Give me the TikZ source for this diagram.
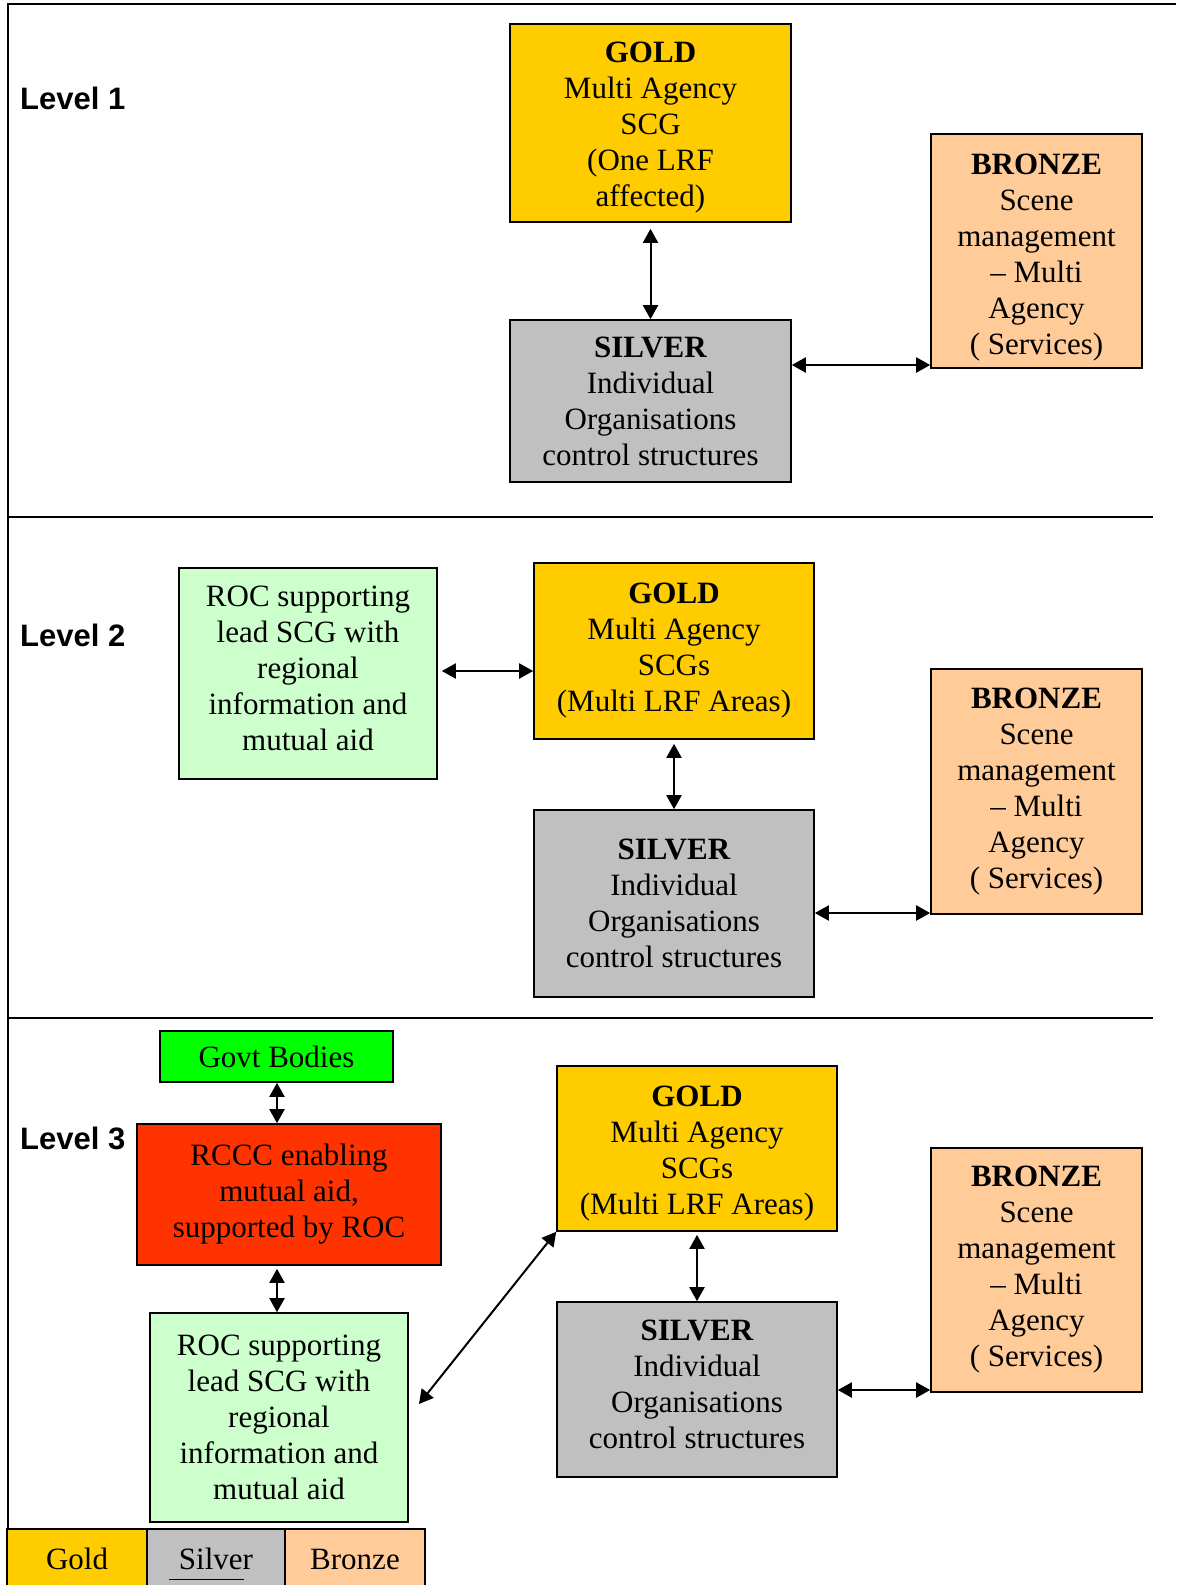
\documentclass[tikz,border=0pt]{standalone}
\usepackage{fontspec}
\setmainfont{Liberation Serif}
\newfontfamily\lvlfont{Liberation Sans}
\usetikzlibrary{arrows.meta,calc}
\definecolor{goldc}{HTML}{FFCC00}
\definecolor{silverc}{HTML}{C0C0C0}
\definecolor{bronzec}{HTML}{FFCC99}
\definecolor{rocc}{HTML}{CCFFCC}
\definecolor{govc}{HTML}{00FF00}
\definecolor{rcccc}{HTML}{FF3300}
% push text down (top) or up (bot) inside a fixed box
\newcommand{\tdn}[1]{\rule{0pt}{#1}}
\newcommand{\tup}[1]{\rule[-#1]{0pt}{#1}}
\begin{document}
\begin{tikzpicture}[x=1pt,y=-1pt,
  box/.style={draw, line width=1.6pt, inner sep=0pt, align=center, font=\fontsize{31}{36}\selectfont},
  goldbox/.style={box, fill=goldc},
  silverbox/.style={box, fill=silverc},
  bronzebox/.style={box, fill=bronzec},
  rocbox/.style={box, fill=rocc},
  govbox/.style={box, fill=govc},
  rcccbox/.style={box, fill=rcccc},
  link/.style={line width=2pt, {Triangle[length=14pt,width=15pt]}-{Triangle[length=14pt,width=15pt]}},
  lvl/.style={anchor=west, font=\lvlfont\bfseries\fontsize{31}{36}\selectfont, inner sep=0pt},
  frame/.style={line width=1.8pt}
]
\useasboundingbox (0,0) rectangle (1176,1585);

% frame and dividers
\coordinate (ftl) at (8,4);
\coordinate (ftr) at (1176,4);
\coordinate (fbl) at (8,1530);
\draw[frame] (ftr) -- (ftl) -- (fbl);
\coordinate (d1a) at (8,517);
\coordinate (d1b) at (1153,517);
\coordinate (d2a) at (8,1018);
\coordinate (d2b) at (1153,1018);
\draw[frame] (d1a) -- (d1b);
\draw[frame] (d2a) -- (d2b);

% Level 1
\node[lvl] (l1) at (20,98) {Level 1};
\node[goldbox, minimum width=281, minimum height=198] (g1) at (650.5,123)
  {\tdn{30pt}\textbf{GOLD}\\Multi Agency\\SCG\\(One LRF\\affected)};
\node[silverbox, minimum width=281, minimum height=162] (s1) at (650.5,401)
  {\textbf{SILVER}\\Individual\\Organisations\\control structures};
\node[bronzebox, minimum width=211, minimum height=234] (b1) at (1036.5,251)
  {\tdn{33pt}\textbf{BRONZE}\\Scene\\management\\– Multi\\Agency\\( Services)};
\draw[link, shorten <=6pt] (g1.south) -- (s1.north);
\coordinate (y1) at (0,365);
\draw[link] (s1.east |- y1) -- (b1.west |- y1);

% Level 2
\node[lvl] (l2) at (20,635) {Level 2};
\node[rocbox, minimum width=258, minimum height=211] (r2) at (308,673.5)
  {ROC supporting\\lead SCG with\\regional\\information and\\mutual aid\tup{11pt}};
\node[goldbox, minimum width=280, minimum height=176] (g2) at (674,651)
  {\textbf{GOLD}\\Multi Agency\\SCGs\\(Multi LRF Areas)};
\node[silverbox, minimum width=280, minimum height=187] (s2) at (674,903.5)
  {\textbf{SILVER}\\Individual\\Organisations\\control structures};
\node[bronzebox, minimum width=211, minimum height=245] (b2) at (1036.5,791.5)
  {\textbf{BRONZE}\\Scene\\management\\– Multi\\Agency\\( Services)};
\coordinate (y2a) at (0,671);
\draw[link, shorten <=4pt] (r2.east |- y2a) -- (g2.west |- y2a);
\draw[link, shorten <=4pt] (g2.south) -- (s2.north);
\coordinate (y2b) at (0,913);
\draw[link] (s2.east |- y2b) -- (b2.west |- y2b);

% Level 3
\node[lvl] (l3) at (20,1138) {Level 3};
\node[govbox, minimum width=233, minimum height=51] (gv) at (276.5,1056.5) {Govt Bodies};
\node[rcccbox, minimum width=304, minimum height=141] (rc) at (289,1194.5)
  {RCCC enabling\\mutual aid,\\supported by ROC};
\node[rocbox, minimum width=258, minimum height=209] (r3) at (279,1417.5)
  {ROC supporting\\lead SCG with\\regional\\information and\\mutual aid};
\node[goldbox, minimum width=280, minimum height=165] (g3) at (697,1148.5)
  {\tdn{30pt}\textbf{GOLD}\\Multi Agency\\SCGs\\(Multi LRF Areas)};
\node[silverbox, minimum width=280, minimum height=175] (s3) at (697,1389.5)
  {\textbf{SILVER}\\Individual\\Organisations\\control structures\tup{11pt}};
\node[bronzebox, minimum width=211, minimum height=244] (b3) at (1036.5,1270)
  {\textbf{BRONZE}\\Scene\\management\\– Multi\\Agency\\( Services)};
\coordinate (x3) at (277,0);
\draw[link] (gv.south -| x3) -- (rc.north -| x3);
\draw[link, shorten <=3pt] (rc.south -| x3) -- (r3.north -| x3);
\coordinate (dg) at (419,1404);
\draw[link] (dg) -- (g3.south west);
\draw[link, shorten <=3pt] (g3.south) -- (s3.north);
\coordinate (y3) at (0,1390);
\draw[link] (s3.east |- y3) -- (b3.west |- y3);

% Legend
\node[goldbox, minimum width=140, minimum height=60] (lg) at (77,1559) {Gold};
\node[silverbox, minimum width=138, minimum height=60] (ls) at (216,1559) {Silver};
\node[bronzebox, minimum width=140, minimum height=60] (lb) at (355,1559) {Bronze};
\coordinate (ula) at (169,1579);
\coordinate (ulb) at (244,1579);
\draw[line width=0.9pt] (ula) -- (ulb);
\end{tikzpicture}
\end{document}
